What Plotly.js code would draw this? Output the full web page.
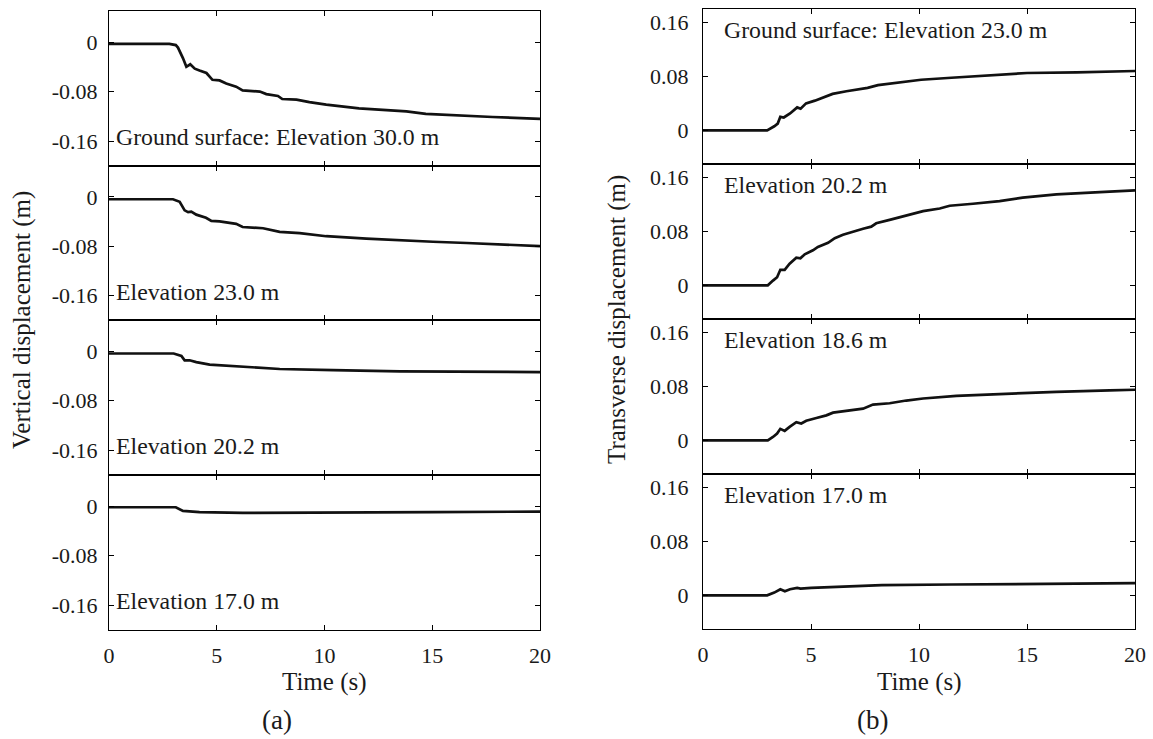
<!DOCTYPE html>
<html>
<head>
<meta charset="utf-8">
<script src="https://cdn.plot.ly/plotly-3.0.1.min.js"></script>
<style>html,body{margin:0;padding:0;background:#fff;}#chart{width:1153px;height:739px;}</style>
</head>
<body>
<div id="chart"></div>
<script>
// ---------------- DATA ----------------
// (a) Vertical displacement (m)
const labelsVertical = ["Ground surface: Elevation 30.0 m", "Elevation 23.0 m", "Elevation 20.2 m", "Elevation 17.0 m"];
const tV300 = [0, 2.8, 3.1, 3.2, 3.43, 3.59, 3.77, 3.98, 4.2, 4.52, 4.8, 5.13, 5.44, 5.9, 6.2, 7.0, 7.3, 7.84, 8.04, 8.7, 9.3, 10.08, 11.6, 13.2, 13.8, 14.7, 16.3, 17.8, 20];
const vV300 = [-0.003, -0.003, -0.005, -0.009, -0.026, -0.040, -0.036, -0.043, -0.046, -0.050, -0.061, -0.062, -0.067, -0.072, -0.078, -0.080, -0.084, -0.087, -0.092, -0.093, -0.097, -0.101, -0.107, -0.110, -0.112, -0.116, -0.118, -0.121, -0.124];
const tV230 = [0, 2.97, 3.28, 3.51, 3.67, 3.82, 4.05, 4.5, 4.75, 5.13, 5.9, 6.2, 7.15, 7.92, 8.85, 10.08, 11.94, 13.5, 15.03, 16.6, 18.1, 20];
const vV230 = [-0.004, -0.004, -0.008, -0.022, -0.025, -0.024, -0.029, -0.034, -0.039, -0.040, -0.044, -0.049, -0.051, -0.057, -0.059, -0.064, -0.068, -0.071, -0.073, -0.075, -0.077, -0.080];
const tV202 = [0, 3.0, 3.36, 3.51, 3.74, 4.05, 4.67, 6.06, 7.92, 10.4, 13.5, 20];
const vV202 = [-0.004, -0.004, -0.008, -0.015, -0.015, -0.018, -0.022, -0.025, -0.029, -0.031, -0.033, -0.034];
const tV170 = [0, 3.1, 3.43, 4.2, 6.2, 10, 15, 20];
const vV170 = [-0.002, -0.002, -0.008, -0.010, -0.011, -0.011, -0.010, -0.009];

// (b) Transverse displacement (m)
const labelsTransverse = ["Ground surface: Elevation 23.0 m", "Elevation 20.2 m", "Elevation 18.6 m", "Elevation 17.0 m"];
const tT230 = [0, 2.97, 3.3, 3.46, 3.58, 3.74, 4.03, 4.36, 4.52, 4.77, 5.18, 5.5, 6.0, 6.64, 7.62, 8.1, 9.1, 10.1, 11.5, 13.2, 15.0, 17.3, 20];
const vT230 = [0, 0, 0.006, 0.010, 0.020, 0.019, 0.025, 0.034, 0.032, 0.040, 0.044, 0.048, 0.054, 0.058, 0.063, 0.067, 0.071, 0.075, 0.078, 0.081, 0.085, 0.086, 0.088];
const tT202 = [0, 3.0, 3.24, 3.43, 3.58, 3.78, 4.01, 4.32, 4.51, 4.71, 5.09, 5.32, 5.79, 6.1, 6.48, 6.94, 7.41, 7.79, 8.02, 8.64, 9.41, 10.19, 10.96, 11.42, 12.5, 13.73, 14.8, 15.6, 16.36, 18.83, 20];
const vT202 = [0, 0, 0.007, 0.012, 0.023, 0.023, 0.032, 0.041, 0.040, 0.046, 0.052, 0.057, 0.063, 0.070, 0.075, 0.080, 0.084, 0.087, 0.092, 0.097, 0.104, 0.110, 0.114, 0.118, 0.121, 0.125, 0.130, 0.133, 0.135, 0.139, 0.141];
const tT186 = [0, 3.0, 3.24, 3.43, 3.58, 3.78, 4.01, 4.32, 4.55, 4.78, 5.25, 5.71, 6.02, 6.48, 6.94, 7.41, 7.87, 8.64, 9.41, 10.19, 11.73, 13.27, 14.8, 16.36, 18.83, 20];
const vT186 = [0, 0, 0.005, 0.010, 0.017, 0.014, 0.020, 0.027, 0.025, 0.029, 0.033, 0.037, 0.041, 0.043, 0.046, 0.047, 0.053, 0.055, 0.059, 0.062, 0.066, 0.068, 0.071, 0.072, 0.074, 0.075];
const tT170 = [0, 2.97, 3.3, 3.58, 3.79, 4.03, 4.36, 4.52, 5.01, 6.32, 8.28, 11.5, 14.8, 20];
const vT170 = [0, 0, 0.004, 0.009, 0.006, 0.009, 0.011, 0.010, 0.011, 0.013, 0.015, 0.016, 0.017, 0.018];

// tick labels
const xTickVals = [0, 5, 10, 15, 20];
const xTickText = ["0", "5", "10", "15", "20"];
const yTickValsV = [0, -0.08, -0.16];
const yTickTextV = ["0", "-0.08", "-0.16"];
const yTickValsT = [0, 0.08, 0.16];
const yTickTextT = ["0", "0.08", "0.16"];

const xTitle = "Time (s)";
const yTitleV = "Vertical displacement (m)";
const yTitleT = "Transverse displacement (m)";
const subLabels = ["(a)", "(b)"];

// ---------------- LAYOUT ----------------
const W = 1153, H = 739;
const FONT = "Liberation Serif";
const TXT = "#1a1a1a";
const px2x = p => p / W;
const px2y = p => 1 - p / H;

const leftX = [px2x(109), px2x(540)];
const rightX = [px2x(703), px2x(1135)];
const leftB = [11, 166, 320, 475, 630];
const rightB = [9, 164, 319, 474, 629];

const seriesV = [[tV300, vV300], [tV230, vV230], [tV202, vV202], [tV170, vV170]];
const seriesT = [[tT230, vT230], [tT202, vT202], [tT186, vT186], [tT170, vT170]];

const data = [];
const layout = {
  width: W, height: H,
  margin: {l: 0, r: 0, t: 0, b: 0},
  paper_bgcolor: "#fff", plot_bgcolor: "#fff",
  showlegend: false,
  font: {family: FONT, color: TXT, size: 22},
  annotations: []
};

function axisX(domain, anchor, showLabels) {
  return {
    domain: domain, anchor: anchor, range: [0, 20],
    tickmode: "array", tickvals: xTickVals, ticktext: xTickText,
    showticklabels: showLabels, ticks: "inside", ticklen: 5, tickwidth: 1, tickcolor: "#000",
    showline: true, linecolor: "#000", linewidth: 1, mirror: "ticks",
    showgrid: false, zeroline: false, ticklabelstandoff: 6,
    tickfont: {family: FONT, size: 22, color: TXT}
  };
}
function axisY(domain, anchor, range, vals, text, standoff) {
  return {
    domain: domain, anchor: anchor, range: range,
    tickmode: "array", tickvals: vals, ticktext: text,
    ticks: "inside", ticklen: 5, tickwidth: 1, tickcolor: "#000",
    showline: true, linecolor: "#000", linewidth: 1, mirror: "ticks",
    showgrid: false, zeroline: false, ticklabelstandoff: standoff,
    tickfont: {family: FONT, size: 22, color: TXT}
  };
}

for (let i = 0; i < 4; i++) {
  const nL = i + 1, nR = i + 5;
  const sL = nL === 1 ? "" : nL;
  data.push({
    x: seriesV[i][0], y: seriesV[i][1], type: "scatter", mode: "lines",
    xaxis: "x" + sL, yaxis: "y" + sL,
    line: {color: "#111", width: 2.7}, hoverinfo: "skip"
  });
  data.push({
    x: seriesT[i][0], y: seriesT[i][1], type: "scatter", mode: "lines",
    xaxis: "x" + nR, yaxis: "y" + nR,
    line: {color: "#111", width: 2.7}, hoverinfo: "skip"
  });
  layout["xaxis" + sL] = axisX(leftX, "y" + sL, i === 3);
  layout["yaxis" + sL] = axisY([px2y(leftB[i + 1]), px2y(leftB[i])], "x" + sL, [-0.2, 0.05], yTickValsV, yTickTextV, 6);
  layout["xaxis" + nR] = axisX(rightX, "y" + nR, i === 3);
  layout["yaxis" + nR] = axisY([px2y(rightB[i + 1]), px2y(rightB[i])], "x" + nR, [-0.05, 0.18], yTickValsT, yTickTextT, 9);

  layout.annotations.push({
    text: labelsVertical[i], xref: "x" + sL, yref: "y" + sL, x: 0.25, y: -0.154,
    xanchor: "left", yanchor: "middle", showarrow: false,
    font: {family: FONT, size: 23.8, color: TXT}
  });
  layout.annotations.push({
    text: labelsTransverse[i], xref: "x" + nR, yref: "y" + nR, x: 0.9, y: 0.149,
    xanchor: "left", yanchor: "middle", showarrow: false,
    font: {family: FONT, size: 23.8, color: TXT}
  });
}

layout.annotations.push(
  {text: xTitle, xref: "paper", yref: "paper", x: px2x(324.8), y: px2y(682), xanchor: "center", yanchor: "middle", showarrow: false, font: {family: FONT, size: 25, color: TXT}},
  {text: xTitle, xref: "paper", yref: "paper", x: px2x(919.3), y: px2y(682), xanchor: "center", yanchor: "middle", showarrow: false, font: {family: FONT, size: 25, color: TXT}},
  {text: yTitleV, xref: "paper", yref: "paper", x: px2x(22), y: px2y(320), textangle: -90, xanchor: "center", yanchor: "middle", showarrow: false, font: {family: FONT, size: 25, color: TXT}},
  {text: yTitleT, xref: "paper", yref: "paper", x: px2x(617), y: px2y(320), textangle: -90, xanchor: "center", yanchor: "middle", showarrow: false, font: {family: FONT, size: 25, color: TXT}},
  {text: subLabels[0], xref: "paper", yref: "paper", x: px2x(277), y: px2y(720), xanchor: "center", yanchor: "middle", showarrow: false, font: {family: FONT, size: 27, color: TXT}},
  {text: subLabels[1], xref: "paper", yref: "paper", x: px2x(872), y: px2y(720), xanchor: "center", yanchor: "middle", showarrow: false, font: {family: FONT, size: 27, color: TXT}}
);

Plotly.newPlot("chart", data, layout, {staticPlot: true, displayModeBar: false});
</script>
</body>
</html>
